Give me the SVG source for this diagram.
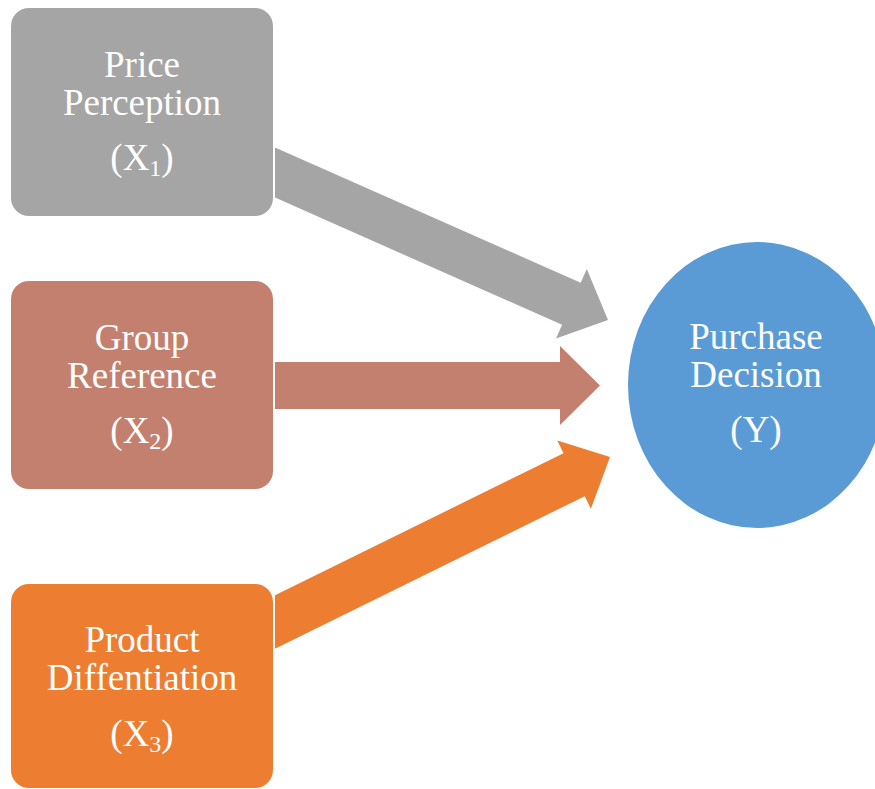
<svg xmlns="http://www.w3.org/2000/svg" width="875" height="789" viewBox="0 0 875 789">
  <style>
    .lbl { font-family: 'Liberation Serif', 'DejaVu Serif', serif; font-size: 37px; fill: #FFFFFF; text-anchor: middle; }
    .sub { font-size: 24px; }
  </style>
  <rect width="875" height="789" fill="#FFFFFF"/>
  <g id="connectors">
    <polygon id="arrow-x1-y" fill="#A5A5A5" points="275,147.4 580.7,282.8 586.8,269.1 608,320 556,338.5 562.1,324.8 275,197.6"/>
    <polygon id="arrow-x2-y" fill="#C4806E" points="275,362 560,362 560,346 600,385.5 560,425 560,409 275,409"/>
    <polygon id="arrow-x3-y" fill="#ED7D31" points="275,595.3 563.5,453.2 557.3,440.6 610,457 590.9,508.8 584.7,496.2 275,648.7"/>
  </g>
  <g id="node-x1">
    <rect x="11" y="8" width="262" height="208" rx="18" fill="#A5A5A5"/>
    <text class="lbl" x="142" y="77">Price</text>
    <text class="lbl" x="142" y="115">Perception</text>
    <text class="lbl" x="142" y="170">(X<tspan class="sub" dy="6">1</tspan><tspan dy="-6">)</tspan></text>
  </g>
  <g id="node-x2">
    <rect x="11" y="281" width="262" height="208" rx="18" fill="#C4806E"/>
    <text class="lbl" x="142" y="350">Group</text>
    <text class="lbl" x="142" y="388">Reference</text>
    <text class="lbl" x="142" y="443">(X<tspan class="sub" dy="6">2</tspan><tspan dy="-6">)</tspan></text>
  </g>
  <g id="node-x3">
    <rect x="11" y="584" width="262" height="204" rx="18" fill="#ED7D31"/>
    <text class="lbl" x="142" y="652">Product</text>
    <text class="lbl" x="142" y="690">Diffentiation</text>
    <text class="lbl" x="142" y="746">(X<tspan class="sub" dy="6">3</tspan><tspan dy="-6">)</tspan></text>
  </g>
  <g id="node-y">
    <ellipse cx="757" cy="385" rx="129" ry="143" fill="#5B9BD5"/>
    <text class="lbl" x="756" y="349">Purchase</text>
    <text class="lbl" x="756" y="387">Decision</text>
    <text class="lbl" x="756" y="442">(Y)</text>
  </g>
</svg>
